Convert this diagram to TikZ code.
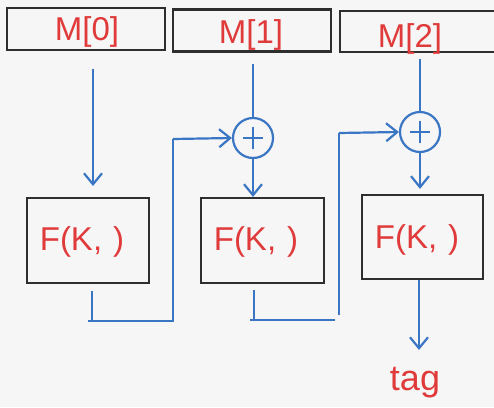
\documentclass[tikz,border=0pt]{standalone}
\usepackage{fontspec}
\setmainfont{Liberation Sans}
\usetikzlibrary{arrows.meta}
\definecolor{bg}{HTML}{F6F6F6}
\definecolor{ink}{HTML}{2E2E2E}
\definecolor{wire}{HTML}{3A76C4}
\definecolor{lbl}{HTML}{E03A3A}
\tikzset{
  frame/.style={draw=ink, line width=2.2pt, inner sep=0pt},
  msgbox/.style={frame, minimum width=158pt, minimum height=42pt},
  prfbox/.style={frame, minimum width=122pt, minimum height=85pt},
  msgtext/.style={text=lbl, font=\fontsize{33}{33}\selectfont, inner sep=0pt},
  prftext/.style={text=lbl, font=\fontsize{33}{33}\selectfont, inner sep=0pt},
  xorc/.style={circle, draw=wire, line width=2.2pt, minimum size=40pt, inner sep=0pt},
  wireline/.style={draw=wire, line width=2.2pt},
  flow/.style={wireline, -{Straight Barb[length=11pt,width=18pt,line width=2.2pt]}},
}
\begin{document}
\begin{tikzpicture}[x=1pt, y=-1pt]
  \fill[bg] (0,0) rectangle (494,407);
  \useasboundingbox (0,0) rectangle (494,407);
  \clip (0,0) rectangle (494,407);

  % message blocks
  \node[msgbox] (m0) at (86,29) {};
  \node[msgbox] (m1) at (252,30.5) {};
  \node[msgbox, minimum width=170pt, minimum height=41pt] (m2) at (425,31.5) {};
  \node[msgtext] (t0) at (87,32) {M[0]};
  \node[msgtext] (t1) at (251,35) {M[1]};
  \node[msgtext] (t2) at (410,39) {M[2]};

  % PRF blocks
  \node[prfbox] (f0) at (88,240.5) {};
  \node[prfbox, minimum width=123pt] (f1) at (262.5,240.5) {};
  \node[prfbox, minimum width=121pt, minimum height=84pt] (f2) at (422.5,237) {};
  \node[prftext] (p0) at (82,242) {F(K,\,\,)};
  \node[prftext] (p1) at (256,242) {F(K,\,\,)};
  \node[prftext] (p2) at (417,240) {F(K,\,\,)};

  % XOR gates
  \node[xorc] (c1) at (253,138) {};
  \node[xorc] (c2) at (420,132) {};
  \draw[wireline] ([xshift=-10pt]c1.center) -- ([xshift=10pt]c1.center)
                  ([yshift=-11pt]c1.center) -- ([yshift=11pt]c1.center);
  \draw[wireline] ([xshift=-10pt]c2.center) -- ([xshift=10pt]c2.center)
                  ([yshift=-11pt]c2.center) -- ([yshift=11pt]c2.center);

  % free wire ends
  \coordinate (in0) at (93,69);
  \coordinate (hd0) at (93,186);
  \coordinate (in1) at (253,64);
  \coordinate (in2) at (420,59);
  \coordinate (o0) at (92,291);
  \coordinate (o0b) at (92,321);
  \coordinate (up0) at (173,139);
  \coordinate (o1) at (254,290);
  \coordinate (o1b) at (254,320);
  \coordinate (o1e) at (335,320);
  \coordinate (up1a) at (339,315);
  \coordinate (up1b) at (339,133);
  \coordinate (tg) at (419,350);

  % wires
  \draw[flow] (in0) -- (hd0);
  \draw[wireline] (in1) -- (c1.north);
  \draw[wireline] (in2) -- (c2.north);
  \draw[flow] (c1.south) -- (c1.south |- f1.north);
  \draw[flow, shorten >=5pt] (c2.south) -- (c2.south |- f2.north);

  \draw[wireline] (o0) -- (o0b) -- ++(81,0) |- (up0);
  \draw[flow] (up0) -- (c1.west);
  \draw[wireline] ([xshift=-4pt]o0b) -- (o0b);

  \draw[wireline] (o1) -- (o1b) -- (o1e);
  \draw[wireline] ([xshift=-4pt]o1b) -- (o1b);
  \draw[wireline] (up1a) -- (up1b);
  \draw[flow] (up1b) -- (c2.west);

  \draw[flow] (f2.south -| tg) -- (tg);
  \node[text=lbl, font=\fontsize{36}{36}\selectfont, inner sep=0pt] (tag) at (415,383) {tag};
\end{tikzpicture}
\end{document}
